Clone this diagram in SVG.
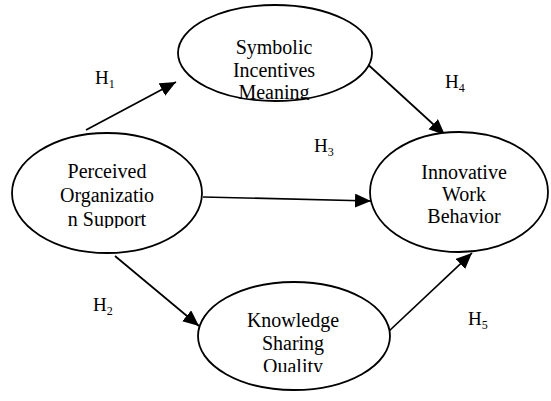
<svg xmlns="http://www.w3.org/2000/svg" width="551" height="401" viewBox="0 0 551 401">
<style>
.node ellipse{fill:#fff;stroke:#000;stroke-width:1.8}
.t{font-family:"Liberation Serif","Times New Roman",serif;font-size:20px;fill:#000;text-anchor:middle}
.lbl{font-family:"Liberation Serif","Times New Roman",serif;font-size:19px;fill:#000}
.sub{font-size:12px}
#connectors line{stroke:#000;stroke-width:1.7}
</style>
<defs>
<marker id="ah" markerUnits="userSpaceOnUse" markerWidth="17" markerHeight="15" refX="16" refY="7" orient="auto">
<path d="M0,0 L16,7 L0,14 Z" fill="#000"/>
</marker>
<clipPath id="c1"><rect x="180" y="20" width="190" height="80"/></clipPath>
<clipPath id="c2"><rect x="14" y="150" width="190" height="78"/></clipPath>
<clipPath id="c4"><rect x="200" y="300" width="190" height="72"/></clipPath>
</defs>
<rect width="551" height="401" fill="#fff"/>
<g id="connectors">
<line x1="86" y1="130" x2="176" y2="82" marker-end="url(#ah)"/>
<line x1="203" y1="197" x2="371" y2="201" marker-end="url(#ah)"/>
<line x1="363" y1="60" x2="445" y2="135" marker-end="url(#ah)"/>
<line x1="115" y1="256" x2="199" y2="326" marker-end="url(#ah)"/>
<line x1="388" y1="332" x2="472" y2="253" marker-end="url(#ah)"/>
</g>
<g id="symbolic" class="node">
<ellipse cx="275" cy="53" rx="97" ry="48"/>
<g clip-path="url(#c1)">
<text class="t" x="274" y="54">Symbolic</text>
<text class="t" x="274" y="76.5">Incentives</text>
<text class="t" x="274" y="99">Meaning</text>
</g>
</g>
<g id="perceived" class="node">
<ellipse cx="107" cy="193" rx="95" ry="60"/>
<g clip-path="url(#c2)">
<text class="t" x="107" y="178">Perceived</text>
<text class="t" x="107" y="202">Organizatio</text>
<text class="t" x="107" y="226">n Support</text>
</g>
</g>
<g id="innovative" class="node">
<ellipse cx="459" cy="192" rx="89" ry="60"/>
<text class="t" x="464" y="179">Innovative</text>
<text class="t" x="464" y="201">Work</text>
<text class="t" x="464" y="223">Behavior</text>
</g>
<g id="knowledge" class="node">
<ellipse cx="294" cy="336" rx="96" ry="54"/>
<g clip-path="url(#c4)">
<text class="t" x="293" y="327">Knowledge</text>
<text class="t" x="293" y="350">Sharing</text>
<text class="t" x="293" y="373">Quality</text>
</g>
</g>
<g id="labels">
<text class="lbl" x="95" y="84">H<tspan class="sub" dy="4">1</tspan></text>
<text class="lbl" x="93" y="311">H<tspan class="sub" dy="4">2</tspan></text>
<text class="lbl" x="314" y="152">H<tspan class="sub" dy="4">3</tspan></text>
<text class="lbl" x="445" y="88">H<tspan class="sub" dy="4">4</tspan></text>
<text class="lbl" x="468" y="325">H<tspan class="sub" dy="4">5</tspan></text>
</g>
</svg>
